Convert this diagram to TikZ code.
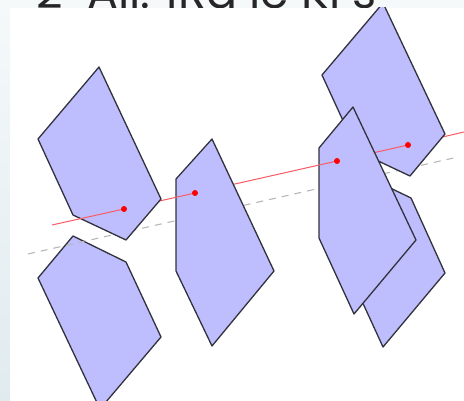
\documentclass[tikz,border=0pt]{standalone}
\usepackage{fontspec}
\setmainfont{Poppins}
\definecolor{facecol}{RGB}{190,190,255}
\definecolor{edgecol}{RGB}{50,50,60}
\definecolor{rayred}{RGB}{250,90,100}
\definecolor{bandtop}{RGB}{245,249,250}
\definecolor{bandbot}{RGB}{224,235,240}
\tikzset{
  face/.style={fill=facecol,draw=edgecol,line width=1.3pt,line join=round},
  ray/.style={draw=rayred,line width=1pt},
  ground/.style={draw=black!28,line width=1.1pt,dash pattern=on 7pt off 6pt},
  hit/.style={circle,fill=red,inner sep=0pt,minimum size=6pt}
}
\begin{document}
\begin{tikzpicture}[x=1pt,y=-1pt]
\useasboundingbox (0,0) rectangle (464,401);
\shade[top color=bandtop,bottom color=bandbot] (0,0) rectangle (464,401);
\node[anchor=base west,inner sep=0pt,font=\fontsize{46}{46}\selectfont,text=black!85] (title) at (36,9) {2\ \ All. IRa le KFs};
\fill[white] (10,8) rectangle (464,401);
\begin{scope}
\clip (10,8) rectangle (464,401);
\coordinate (r0) at (52,225);
\coordinate (r1) at (124,209);
\coordinate (r2) at (195,193);
\coordinate (r3) at (337,161);
\coordinate (r4) at (408,145);
\coordinate (r5) at (464,132);
\coordinate (g0) at (28,254);
\coordinate (g1) at (458,157);
\draw[ground] (g0) -- (g1);
\draw[ray] (r4) -- (r5);
\draw[face] (383,3) -- (322,75) -- (357,151) -- (410,176) -- (445,134) -- cycle;
\draw[face] (357,172) -- (411,198) -- (445,273) -- (383,347) -- (322,214) -- cycle;
\draw[ray] (r3) -- (r4);
\node[hit] (h4) at (r4) {};
\draw[face] (353,107) -- (319,148) -- (319,238) -- (354,314) -- (416,240) -- cycle;
\draw[ray] (r2) -- (r3);
\node[hit] (h3) at (r3) {};
\draw[face] (212,139) -- (176,179) -- (176,271) -- (212,346) -- (274,271) -- cycle;
\draw[ray] (r1) -- (r2);
\node[hit] (h2) at (r2) {};
\draw[face] (73,236) -- (126,262) -- (161,337) -- (100,409) -- (38,278) -- cycle;
\begin{scope}
\clip (38,278) -- (73,236) -- (126,262) -- (161,337) -- (100,409) -- cycle;
\draw[ground] (g0) -- (g1);
\end{scope}
\draw[face] (99,67) -- (38,139) -- (73,215) -- (126,240) -- (161,199) -- cycle;
\draw[ray] (r0) -- (r1);
\node[hit] (h1) at (r1) {};
\end{scope}
\end{tikzpicture}
\end{document}
